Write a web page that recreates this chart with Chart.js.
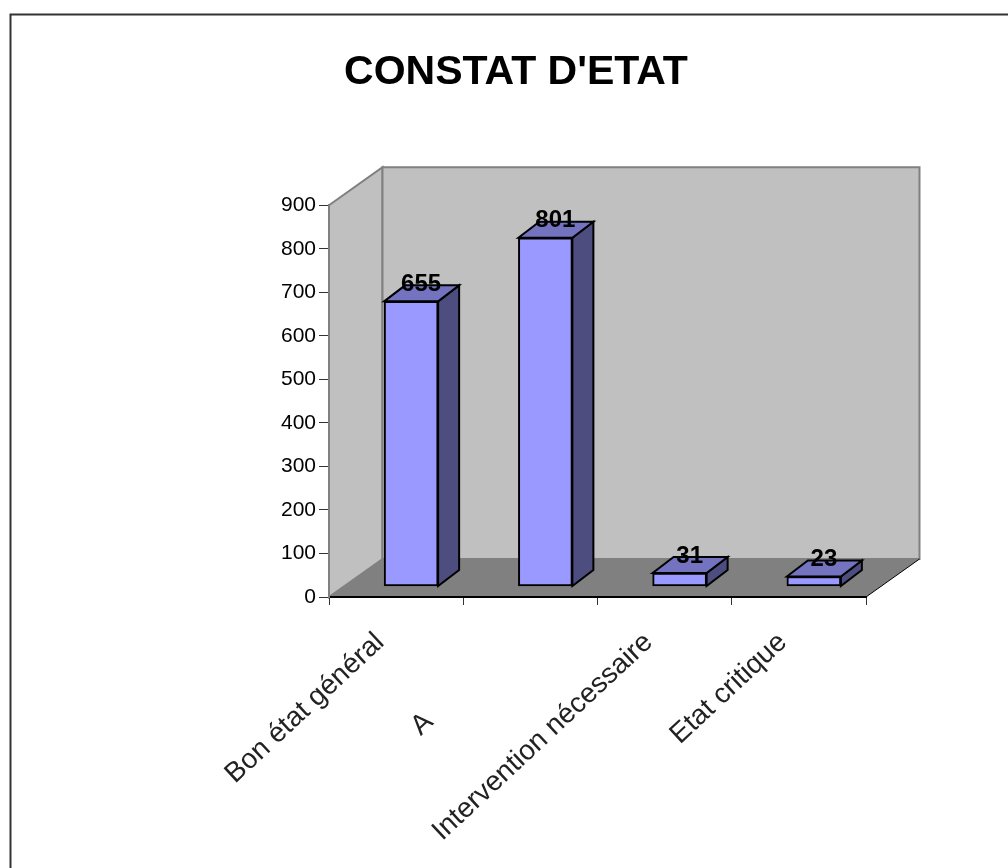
<!DOCTYPE html>
<html><head><meta charset="utf-8">
<style>html,body{margin:0;padding:0;background:#fff}#w{position:relative;width:1008px;height:868px}</style>
<script src="https://cdn.jsdelivr.net/npm/chart.js@4"></script>
</head><body><div id="w"><canvas id="c" width="1008" height="868"></canvas></div>
<script>
const titleText = "CONSTAT D'ETAT";
const categories = ["Bon état général", "A" + "\u00A0".repeat(15), "Intervention nécessaire", "Etat critique"];
const values = [655, 801, 31, 23];
const yMax = 900, yStep = 100;
const FONT = '"Liberation Sans", Arial, sans-serif';
const DX = 15, DY = -10.5, SX = 21, SY = -16, WX = 53.5, WY = -38;

function poly(ctx, pts, fill, stroke, lw) {
  ctx.beginPath();
  pts.forEach((p, i) => i ? ctx.lineTo(p[0], p[1]) : ctx.moveTo(p[0], p[1]));
  ctx.closePath();
  if (fill) { ctx.fillStyle = fill; ctx.fill(); }
  if (stroke) { ctx.strokeStyle = stroke; ctx.lineWidth = lw; ctx.lineJoin = 'miter'; ctx.stroke(); }
}
const stage = {
  id: 'stage',
  beforeDraw(chart) {
    const { ctx, chartArea: a } = chart;
    ctx.save();
    ctx.fillStyle = '#fff'; ctx.fillRect(0, 0, chart.width, chart.height);
    ctx.strokeStyle = '#333'; ctx.lineWidth = 2;
    ctx.beginPath(); ctx.moveTo(10.5, 868); ctx.lineTo(10.5, 14.5); ctx.lineTo(1008, 14.5); ctx.stroke();
    const l = a.left, r = a.right, t = a.top, b = a.bottom;
    poly(ctx, [[l, t], [l + WX, t + WY], [l + WX, b + WY], [l, b]], '#c0c0c0', '#808080', 2);
    poly(ctx, [[l + WX, t + WY], [r + WX, t + WY], [r + WX, b + WY], [l + WX, b + WY]], '#c0c0c0', '#808080', 2);
    poly(ctx, [[l, b], [l + WX, b + WY], [r + WX, b + WY], [r, b]], '#808080');
    ctx.strokeStyle = '#000'; ctx.lineWidth = 1;
    ctx.beginPath(); ctx.moveTo(r, b); ctx.lineTo(r + WX, b + WY); ctx.stroke();
    ctx.restore();
  },
  beforeDatasetDraw(chart, args) {
    const ctx = chart.ctx;
    ctx.save();
    ctx.translate(DX, DY);
    chart.getDatasetMeta(args.index).data.forEach(bar => {
      const x0 = bar.x - bar.width / 2, x1 = bar.x + bar.width / 2, y0 = bar.y, y1 = bar.base;
      poly(ctx, [[x1, y0], [x1 + SX, y0 + SY], [x1 + SX, y1 + SY], [x1, y1]], '#4d4d80', '#000', 2);
      poly(ctx, [[x0, y0], [x0 + SX, y0 + SY], [x1 + SX, y0 + SY], [x1, y0]], '#7373bf', '#000', 2);
    });
  },
  afterDatasetDraw(chart) { chart.ctx.restore(); },
  afterDatasetsDraw(chart) {
    const ctx = chart.ctx;
    ctx.save();
    ctx.font = 'bold 24px ' + FONT;
    ctx.fillStyle = '#000'; ctx.textAlign = 'center'; ctx.textBaseline = 'middle';
    chart.getDatasetMeta(0).data.forEach((bar, i) => {
      ctx.fillText(String(values[i]), bar.x + DX + 10, bar.y + DY - 17);
    });
    ctx.restore();
  }
};
new Chart(document.getElementById('c'), {
  type: 'bar',
  data: { labels: categories, datasets: [{ data: values, backgroundColor: '#9999ff', borderColor: '#000', borderWidth: 2, borderSkipped: false, barThickness: 54, clip: false }] },
  plugins: [stage],
  options: {
    responsive: false, animation: false,
    layout: { padding: { left: 166, right: 142, top: 0, bottom: 0 } },
    plugins: {
      legend: { display: false }, tooltip: { enabled: false },
      title: { display: true, text: titleText, color: '#000', font: { family: FONT, size: 41, weight: 'bold', lineHeight: 1.2 }, padding: { top: 48, bottom: 108 } }
    },
    scales: {
      x: {
        grid: { drawOnChartArea: false, drawTicks: true, tickLength: 8, color: '#333' },
        border: { color: '#000', width: 2 },
        ticks: { autoSkip: false, minRotation: 43, maxRotation: 43, labelOffset: -16, padding: 21, color: '#222', font: { family: FONT, size: 28 } },
        afterFit(s) { s.height = 271; s.paddingLeft = 0; s.paddingRight = 0; }
      },
      y: {
        min: 0, max: yMax,
        grid: { drawOnChartArea: false, drawTicks: true, tickLength: 10, color: '#333' },
        border: { color: '#808080', width: 2 },
        ticks: { stepSize: yStep, padding: 3, color: '#000', font: { family: FONT, size: 21 } },
        afterFit(s) { s.width = 163; s.paddingTop = 0; s.paddingBottom = 0; }
      }
    }
  }
});
</script></body></html>
